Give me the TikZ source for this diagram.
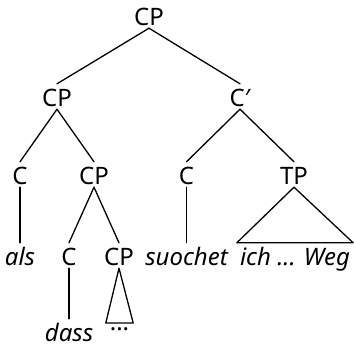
\documentclass[tikz,border=0pt]{standalone}
\usepackage{fontspec}
\setmainfont{Noto Sans}
\begin{document}
\begin{tikzpicture}[x=1pt,y=1pt,
  cat/.style={anchor=base,inner sep=3pt,text height=19pt,text depth=0pt,font=\fontsize{24}{26}\selectfont},
  word/.style={cat,font=\fontsize{24}{26}\selectfont\itshape},
  dotsnode/.style={anchor=north,inner sep=0pt,text height=7pt,text depth=0pt,minimum width=27pt,font=\fontsize{24}{26}\selectfont},
  edge/.style={line width=1.3pt,line cap=round,line join=round}]
\useasboundingbox (0,0) rectangle (354,-346);
% level 1
\node[cat] (cp0) at (149,-25) {CP};
% level 2
\node[cat] (cpl) at (57,-106) {CP};
\node[cat] (cbar) at (240,-106) {C′};
% level 3
\node[cat] (c1) at (20,-184) {C};
\node[cat] (cp1) at (94,-184) {CP};
\node[cat] (c3) at (186.5,-184) {C};
\node[cat] (tp) at (294,-184) {TP};
% level 4
\node[word] (als) at (20,-265) {als};
\node[cat] (c2) at (69,-265) {C};
\node[cat] (cp2) at (119,-265) {CP};
\node[word] (suochet) at (186.5,-265) {suochet};
\node[word,minimum width=116pt] (ichweg) at (295,-265) {ich ... Weg};
% level 5
\node[word] (dass) at (69,-341) {dass};
\node[dotsnode] (dots) at (119.5,-323) {...};
% branches
\draw[edge] (cp0.south) -- (cpl.north);
\draw[edge] (cp0.south) -- (cbar.north);
\draw[edge] (cpl.south) -- (c1.north);
\draw[edge] (cpl.south) -- (cp1.north);
\draw[edge] (cbar.south) -- (c3.north);
\draw[edge] (cbar.south) -- (tp.north);
\draw[edge] (c1.south) -- (als.north);
\draw[edge] (cp1.south) -- (c2.north);
\draw[edge] (cp1.south) -- (cp2.north);
\draw[edge] (c3.south) -- (suochet.north);
\draw[edge] (c2.south) -- (dass.north);
% triangles
\draw[edge] (tp.south) -- (ichweg.north west) -- (ichweg.north east) -- cycle;
\draw[edge] (cp2.south) -- (dots.north west) -- (dots.north east) -- cycle;
\end{tikzpicture}
\end{document}
